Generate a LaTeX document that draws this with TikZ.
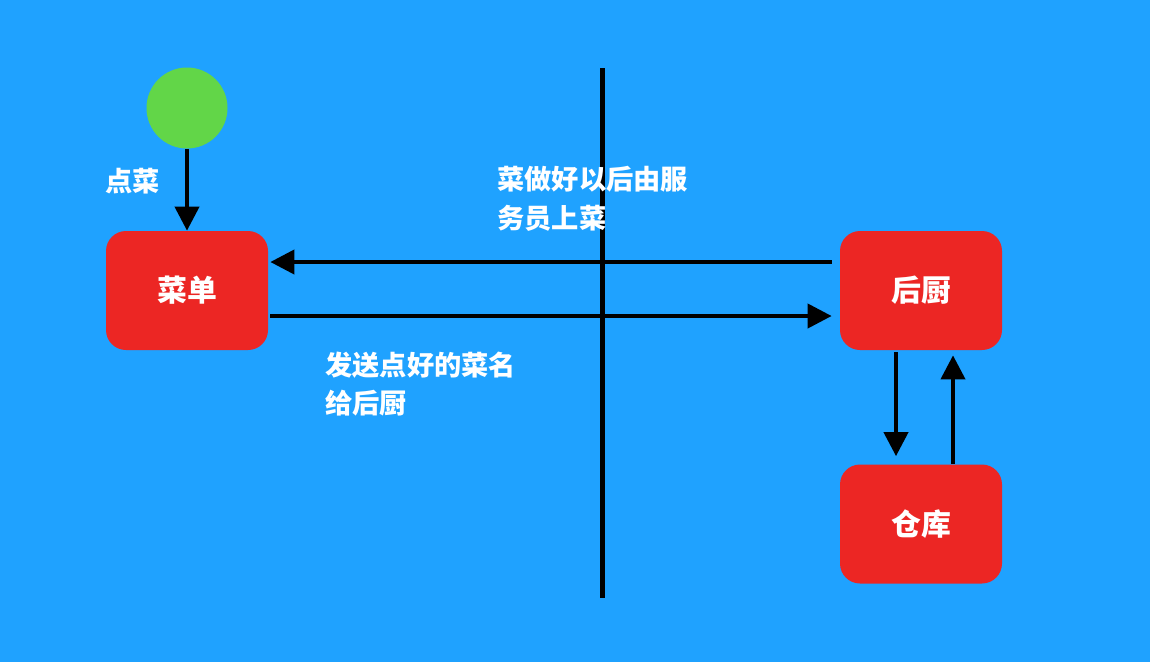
\documentclass[tikz,border=0pt]{standalone}
\usepackage{fontspec}
\usepackage{xcolor}
\usepackage{tikz}
\usetikzlibrary{arrows.meta, positioning}
\newfontfamily\cjk{Noto Sans CJK SC}
\definecolor{bgblue}{RGB}{31,162,255}
\definecolor{boxred}{RGB}{236,38,36}
\definecolor{startgreen}{RGB}{98,214,72}
\tikzstyle{arrow}  = [line width=0.08cm, -{Triangle[length=0.48cm, width=0.48cm]}]
\tikzstyle{state}  = [rectangle, fill=boxred, minimum width=3.24cm, minimum height=2.38cm, rounded corners=0.4cm, text=white, font=\cjk\bfseries\fontsize{17}{20}\selectfont]
\tikzstyle{note}   = [text=white, align=left, inner sep=0pt, font=\cjk\bfseries\fontsize{15.5}{22}\selectfont]
\tikzset{every node/.style={align=center}}

\begin{document}
\begin{tikzpicture}
    \fill[bgblue] (0,0) rectangle (23,-13.24);
    \useasboundingbox (0,0) rectangle (23,-13.24);

    % divider
    \coordinate (top)    at (12.04,-1.36);
    \coordinate (bottom) at (12.04,-11.96);
    \draw [line width=0.1cm] (top) -- (bottom);

    \node (start)   at (3.74,-2.16)  [circle, fill=startgreen, minimum size=1.62cm, inner sep=0pt] {};
    \node (menu)    at (3.74,-5.81)  [state] {菜单};
    \node (kitchen) at (18.42,-5.81) [state] {后厨};
    \node (store)   at (18.42,-10.48) [state] {仓库};

    \node (order)  at (2.1,-3.62)  [note, anchor=west] {点菜};
    \node (serve)  at (9.94,-3.98) [note, anchor=west] {菜做好以后由服\\务员上菜};
    \node (send)   at (6.5,-7.68)  [note, anchor=west] {发送点好的菜名\\给后厨};

    \draw [arrow] (start) -- (menu);
    \draw [arrow, shorten <=0.16cm, shorten >=0.04cm] ([yshift=0.57cm]kitchen.west) -- ([yshift=0.57cm]menu.east);
    \draw [arrow, shorten <=0.04cm, shorten >=0.16cm] ([yshift=-0.51cm]menu.east) -- ([yshift=-0.51cm]kitchen.west);
    \draw [arrow, shorten <=0.04cm, shorten >=0.16cm] ([xshift=-0.5cm]kitchen.south) -- ([xshift=-0.5cm]store.north);
    \draw [arrow, shorten >=0.1cm] ([xshift=0.64cm]store.north) -- ([xshift=0.64cm]kitchen.south);
\end{tikzpicture}
\end{document}
